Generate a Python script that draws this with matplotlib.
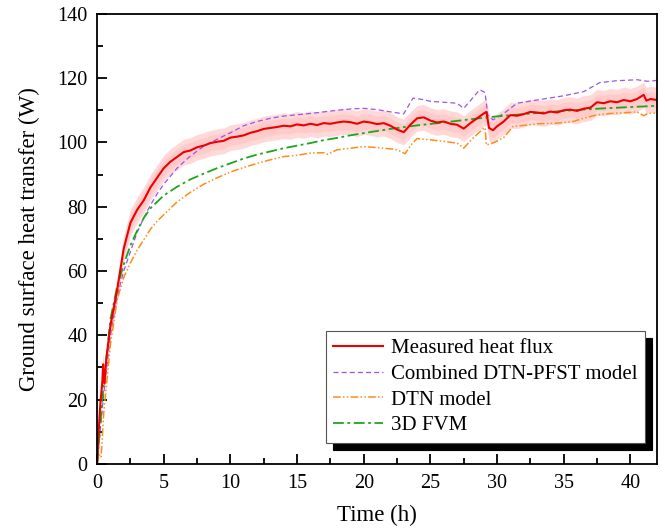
import numpy as np
import matplotlib
matplotlib.use('Agg')
import matplotlib.pyplot as plt

# measured heat flux
t_meas = [0, 0.1, 0.25, 0.4, 0.45, 0.55, 0.7, 1.0, 1.5, 2.0, 2.5, 3.0, 3.5, 4.0, 4.5,
          5.0, 5.5, 6.0, 6.5, 7.0, 7.5, 8.0, 8.5, 9.0, 9.5, 10.0, 10.5, 11.0, 11.5,
          12.0, 12.5, 13.0, 13.5, 14.0, 14.5, 15.0, 15.5, 16.0, 16.5, 17.0, 17.5,
          18.0, 18.5, 19.0, 19.5, 20.0, 20.5, 21.0, 21.5, 22.0, 22.5, 23.0, 23.5,
          24.0, 24.5, 25.0, 25.5, 26.0, 26.5, 27.0, 27.5, 28.0, 28.5, 29.0, 29.2,
          29.4, 29.7, 30.0, 30.5, 31.0, 31.5, 32.0, 32.5, 33.0, 33.5, 34.0, 34.5,
          35.0, 35.5, 36.0, 36.5, 37.0, 37.5, 38.0, 38.5, 39.0, 39.5, 40.0, 40.5,
          41.0, 41.2, 41.5, 42.0]
q_meas = [0, 9, 19, 26, 31, 25, 33, 43, 54, 67, 75, 79, 82, 86, 89,
          92, 94, 95.5, 97, 97.5, 98.5, 99, 99.8, 100.2, 100.5, 101.5, 101.8, 102.2, 103,
          103.5, 104.2, 104.5, 104.8, 105.2, 105, 105.6, 105.3, 105.8, 105.4, 106, 105.8,
          106.2, 106.5, 106.3, 105.8, 106.5, 106.2, 105.7, 106, 105.2, 104, 103.2, 105.5,
          107.5, 107.8, 106.8, 106.2, 106.5, 105.8, 105.5, 104.3, 106, 107.5, 109, 109.5,
          104.5, 103.8, 105, 106.5, 108.5, 108.3, 108.8, 109.5, 109.3, 109, 109.6, 109.3,
          110, 110.2, 109.8, 110.5, 110.8, 112.5, 112.2, 112.8, 112.5, 113.2, 112.8, 113.5,
          114.8, 113, 113.5, 113.2]
band = 4.0

# combined DTN-PFST model
t_comb = [0, 0.5, 1.0, 1.5, 2, 2.5, 3, 3.5, 4, 4.5, 5, 5.5, 6, 7, 8, 9, 10, 11, 12, 13,
          14, 15, 16, 17, 18, 19, 20, 21, 22, 23, 23.7, 24.5, 25, 26, 27, 27.5, 28,
          28.7, 29.1, 29.3, 29.7, 30.5, 31.5, 33, 35, 36.5, 37.7, 39, 40.5, 41.3, 42]
q_comb = [0, 22, 40, 52, 60, 66, 72, 76.5, 80.5, 84, 87, 89.5, 92, 95.8, 98.8, 101, 103,
          105.2, 106.5, 107.5, 108.2, 108.6, 109, 109.5, 110, 110.4, 110.6, 110.2, 109.5,
          108.9, 113.8, 113.3, 112.8, 112.5, 112.2, 110.6, 113, 116.4, 115.5, 108.6, 107,
          109, 112.2, 113.2, 114.5, 115.8, 118.6, 119.2, 119.5, 119, 119.3]

# DTN model
t_dtn = [0, 0.15, 0.3, 0.5, 1, 1.5, 2, 2.5, 3, 3.5, 4, 4.5, 5, 6, 7, 8, 9, 10, 11, 12,
         13, 14, 15, 16, 17, 17.3, 18, 19, 20, 21, 22, 22.5, 23.1, 23.6, 24, 25, 26, 27,
         27.5, 28, 28.5, 29, 29.1, 29.2, 29.8, 30.5, 31.2, 32, 33, 34.5, 35.7, 36.5,
         37.5, 38.5, 39.5, 40.5, 41, 41.3, 42]
q_dtn = [0, 3, 2, 16, 37, 51, 58, 62.5, 66.5, 69.7, 73, 75.5, 77.5, 81.5, 84.5, 87, 89,
         90.8, 92.2, 93.5, 94.6, 95.6, 96, 96.7, 96.8, 96.3, 97.7, 98.2, 98.7, 98.4, 98,
         97.7, 96.5, 99.5, 101.2, 100.8, 100.3, 99.8, 98.2, 100.5, 102.5, 104.4, 104.6,
         99.2, 100, 101.5, 105, 105.3, 105.8, 106, 106.5, 107.5, 108.6, 109, 109.2, 109.5,
         108.3, 109, 109.2]

# 3D FVM
t_fvm = [0, 0.5, 1, 1.5, 2, 2.5, 3, 3.5, 4, 5, 6, 7, 8, 9, 10, 11, 12, 13, 14, 15, 16,
         17, 18, 19, 20, 22, 24, 26, 28, 30, 32, 34, 36, 38, 40, 42]
q_fvm = [0, 25, 45, 55, 62, 68, 72.5, 76.5, 79.5, 83.5, 86.2, 88.5, 90.3, 92, 93.5, 95,
         96.2, 97.2, 98.2, 99, 99.8, 100.7, 101.4, 102.2, 102.9, 104.2, 105.3, 106.2,
         107.2, 108.1, 108.8, 109.5, 110.1, 110.6, 111, 111.4]

plt.rcParams['font.family'] = ['Liberation Serif', 'DejaVu Serif']

fig = plt.figure(figsize=(6.65, 5.32), dpi=100)
ax = fig.add_axes([0.146, 0.128, 0.842, 0.846])

q = np.array(q_meas)
ax.fill_between(t_meas, q - band, q + band, color='#ff8080', alpha=0.3, lw=0)
ax.fill_between(t_meas, q - band * 0.6, q + band * 0.6, color='#ff8080', alpha=0.15, lw=0)

ax.plot(t_comb, q_comb, color='#9955ee', ls=(0, (4, 2.5)), lw=0.9, label='Combined DTN-PFST model')
ax.plot(t_dtn, q_dtn, color='#ff8c1a', ls=(0, (5, 1.5, 1, 1.5, 1, 1.5)), lw=1.1, label='DTN model')
ax.plot(t_fvm, q_fvm, color='#1aa81a', ls=(0, (6, 2, 1.5, 2)), lw=1.3, label='3D FVM')
ax.plot(t_meas, q_meas, color='#ee0000', lw=1.5, label='Measured heat flux')

ax.set_xlim(0, 42)
ax.set_ylim(0, 140)
ax.set_xticks(np.arange(0, 41, 5))
ax.set_xticks(np.arange(0, 42, 2.5), minor=True)
ax.set_yticks(np.arange(0, 141, 20))
ax.set_yticks(np.arange(0, 141, 10), minor=True)
ax.tick_params(which='both', direction='in', top=False, right=False, labelsize=14.5, width=1.3)
ax.tick_params(which='major', length=7, pad=7)
ax.tick_params(which='minor', length=4)
for s in ax.spines.values():
    s.set_linewidth(1.3)

ax.set_xlabel('Time (h)', fontsize=16.5, labelpad=9)
ax.set_ylabel('Ground surface heat transfer (W)', fontsize=16.5, labelpad=12)

handles, labels = ax.get_legend_handles_labels()
order = [3, 0, 1, 2]
leg = ax.legend([handles[i] for i in order], [labels[i] for i in order],
                loc='lower right', bbox_to_anchor=(0.979, 0.047), borderaxespad=0,
                fontsize=15, handlelength=2.4, handletextpad=0.4, labelspacing=0.3,
                borderpad=0.35, fancybox=False, framealpha=1,
                shadow={'color': 'black', 'alpha': 1, 'ox': 5, 'oy': -5})
leg.get_frame().set_edgecolor('#555555')
leg.get_frame().set_linewidth(0.8)

fig.savefig('out.png', dpi=100)
